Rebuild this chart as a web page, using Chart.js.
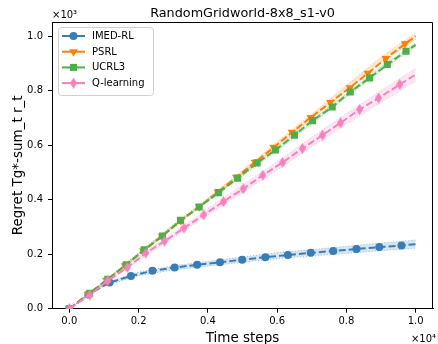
<!DOCTYPE html>
<html>
<head>
<meta charset="utf-8">
<script src="https://cdn.jsdelivr.net/npm/chart.js@4.4.0/dist/chart.umd.min.js"></script>
<style>
    html, body { margin: 0; padding: 0; background: #fff; }
    #wrap { width: 438px; height: 344px; }
</style>
</head>
<body>
<div id="wrap"><canvas id="regretChart" width="438" height="344"></canvas></div>
<script>
// Values: x in time steps, y in regret

const chartTitle = 'RandomGridworld-8x8_s1-v0';
const seriesNames = ['IMED-RL', 'PSRL', 'UCRL3', 'Q-learning'];

// mean curves, one point per marker plus the end of each line
const imedX = [0, 550, 1160, 1780, 2400, 3040, 3690, 4350, 4990, 5660, 6310, 6970, 7620, 8290, 8950, 9590, 10000];
const imedY = [0, 52, 96, 120, 139, 151, 161, 170, 180, 189, 197, 205, 212, 219, 226, 232, 237];

const psrlX = [0, 540, 1070, 1610, 2140, 2680, 3220, 3750, 4290, 4820, 5360, 5900, 6430, 6970, 7540, 8100, 8620, 9140, 9690, 10000];
const psrlY = [0, 53, 104, 158, 212, 266, 323, 374, 428, 482, 537, 592, 647, 702, 757, 811, 864, 918, 972, 1000];

const ucrlX = [0, 590, 1110, 1640, 2160, 2690, 3210, 3750, 4310, 4860, 5420, 5950, 6500, 7020, 7590, 8110, 8670, 9180, 9720, 10000];
const ucrlY = [0, 57, 108, 161, 216, 267, 324, 373, 426, 479, 535, 582, 637, 690, 740, 795, 847, 896, 945, 968];

const qX = [0, 590, 1110, 1670, 2210, 2750, 3310, 3880, 4450, 5020, 5590, 6160, 6730, 7310, 7830, 8380, 8930, 9540, 10000];
const qY = [0, 50, 103, 151, 204, 248, 296, 344, 393, 440, 490, 537, 588, 637, 682, 731, 773, 823, 859];

// confidence bands
const bandX = [0, 500, 1000, 2000, 3000, 4000, 5000, 6000, 7000, 8000, 9000, 10000];
const imedLo = [0, 44, 82, 121, 142, 156, 170, 184, 193, 203, 213, 222];
const imedHi = [0, 50, 92, 135, 158, 174, 190, 206, 217, 229, 241, 252];
const psrlLo = [0, 47, 95, 196, 296, 395, 494, 597, 696, 800, 902, 988];
const psrlHi = [0, 51, 101, 204, 306, 407, 508, 613, 714, 820, 924, 1012];
const ucrlLo = [0, 46, 94, 197, 299, 393, 487, 580, 678, 776, 873, 960];
const ucrlHi = [0, 50, 100, 205, 309, 403, 499, 592, 692, 790, 889, 976];
const qLo = [0, 39, 88, 177, 259, 345, 426, 508, 594, 676, 757, 835];
const qHi = [0, 45, 98, 193, 279, 369, 454, 540, 630, 716, 801, 883];

// tick positions
const xTickValues = [0, 2000, 4000, 6000, 8000, 10000];
const yTickValues = [0, 200, 400, 600, 800, 1000];

const FONT = '"DejaVu Sans", Verdana, sans-serif';

/**
 * Build a thin diamond marker on its own canvas
 */
function makeThinDiamond(color, w, h) {
    const c = document.createElement('canvas');
    c.width = w;
    c.height = h;
    const g = c.getContext('2d');
    g.fillStyle = color;
    g.beginPath();
    g.moveTo(w / 2, 0);
    g.lineTo(w, h / 2);
    g.lineTo(w / 2, h);
    g.lineTo(0, h / 2);
    g.closePath();
    g.fill();
    return c;
}

function toPoints(xs, ys) {
    return xs.map((x, i) => ({ x: x, y: ys[i] }));
}

function rgba(hex, a) {
    const n = parseInt(hex.slice(1), 16);
    return 'rgba(' + (n >> 16) + ',' + ((n >> 8) & 255) + ',' + (n & 255) + ',' + a + ')';
}

const series = [
    { name: seriesNames[0], xs: imedX, ys: imedY, lo: imedLo, hi: imedHi, color: '#377eb8', style: 'circle', radius: 4, rotation: 0, order: 4 },
    { name: seriesNames[1], xs: psrlX, ys: psrlY, lo: psrlLo, hi: psrlHi, color: '#ff7f00', style: 'triangle', radius: 5, rotation: 180, order: 3 },
    { name: seriesNames[2], xs: ucrlX, ys: ucrlY, lo: ucrlLo, hi: ucrlHi, color: '#4daf4a', style: 'rect', radius: 5, rotation: 0, order: 2 },
    { name: seriesNames[3], xs: qX, ys: qY, lo: qLo, hi: qHi, color: '#f781bf', style: null, radius: 5, rotation: 0, order: 1 }
];
series[3].style = makeThinDiamond(series[3].color, 7, 11);

const datasets = [];
series.forEach(s => {
    const last = s.xs.length - 1;
    datasets.push({
        label: s.name + ' lo',
        data: toPoints(bandX, s.lo),
        borderColor: rgba(s.color, 0.45),
        borderWidth: 1,
        borderDash: [1, 2],
        pointRadius: 0,
        fill: false,
        order: 10 + s.order
    });
    datasets.push({
        label: s.name + ' hi',
        data: toPoints(bandX, s.hi),
        borderColor: rgba(s.color, 0.45),
        backgroundColor: rgba(s.color, 0.2),
        borderWidth: 1,
        borderDash: [1, 2],
        pointRadius: 0,
        fill: '-1',
        order: 10 + s.order
    });
    datasets.push({
        label: s.name,
        data: toPoints(s.xs, s.ys),
        borderColor: s.color,
        backgroundColor: s.color,
        borderWidth: 2,
        borderDash: [7, 3],
        pointStyle: s.style,
        rotation: s.rotation,
        pointRadius: ctx => ctx.dataIndex === last ? 0 : s.radius,
        pointBorderWidth: 0,
        fill: false,
        order: s.order
    });
});

// texts, top/right spines and legend drawn by hand
const decorPlugin = {
    id: 'decor',
    afterDraw(chart) {
        const ctx = chart.ctx;
        const a = chart.chartArea;
        ctx.save();

        // top and right spines
        ctx.strokeStyle = '#000';
        ctx.lineWidth = 1;
        ctx.beginPath();
        ctx.moveTo(a.left, a.top + 0.5);
        ctx.lineTo(a.right - 0.5, a.top + 0.5);
        ctx.lineTo(a.right - 0.5, a.bottom);
        ctx.stroke();

        ctx.fillStyle = '#000';
        ctx.textBaseline = 'alphabetic';

        // title
        ctx.font = '12.8px ' + FONT;
        ctx.textAlign = 'center';
        ctx.fillText(chartTitle, (a.left + a.right) / 2, 16.5);

        // axis titles
        ctx.font = '13.5px ' + FONT;
        ctx.fillText('Time steps', (a.left + a.right) / 2, 341.5);
        ctx.save();
        ctx.translate(21.5, (a.top + a.bottom) / 2);
        ctx.rotate(-Math.PI / 2);
        ctx.fillText('Regret Tg*-sum_t r_t', 0, 0);
        ctx.restore();

        // offset texts
        ctx.font = '10px ' + FONT;
        ctx.textAlign = 'left';
        ctx.fillText('×10³', a.left, 18);
        ctx.textAlign = 'right';
        ctx.fillText('×10⁴', 436, 342);

        // legend
        const lx = 58, ly = 27, lw = 95, lh = 68;
        ctx.fillStyle = 'rgba(255,255,255,0.8)';
        ctx.strokeStyle = '#d0d0d0';
        ctx.beginPath();
        ctx.roundRect(lx + 0.5, ly + 0.5, lw, lh, 3);
        ctx.fill();
        ctx.stroke();

        ctx.textAlign = 'left';
        ctx.textBaseline = 'middle';
        ctx.font = '10px ' + FONT;
        series.forEach((s, i) => {
            const y = 36 + i * 15.7;
            ctx.strokeStyle = s.color;
            ctx.lineWidth = 2;
            ctx.setLineDash([]);
            ctx.beginPath();
            ctx.moveTo(62, y);
            ctx.lineTo(85, y);
            ctx.stroke();
            ctx.fillStyle = s.color;
            Chart.helpers.drawPoint(ctx, { pointStyle: s.style, rotation: s.rotation, radius: s.radius, borderWidth: 0 }, 73.5, y);
            ctx.fillStyle = '#000';
            ctx.fillText(s.name, 92, y + 0.5);
        });

        ctx.restore();
    }
};

const chart = new Chart(document.getElementById('regretChart'), {
    type: 'line',
    data: { datasets: datasets },
    options: {
        responsive: false,
        animation: false,
        devicePixelRatio: 1,
        layout: { padding: { top: 22, right: 1, left: 0, bottom: 0 } },
        plugins: {
            legend: { display: false },
            title: { display: false },
            tooltip: { enabled: false }
        },
        elements: { line: { tension: 0 } },
        scales: {
            x: {
                type: 'linear',
                min: -500,
                max: 10500,
                afterBuildTicks: scale => { scale.ticks = xTickValues.map(v => ({ value: v })); },
                afterFit: scale => { scale.height = 35.3; },
                grid: { display: true, drawOnChartArea: false, drawTicks: true, tickLength: 4, color: '#000' },
                border: { display: true, color: '#000', width: 1 },
                ticks: {
                    color: '#000',
                    padding: 3,
                    maxRotation: 0,
                    font: { family: FONT, size: 10 },
                    callback: v => (v / 10000).toFixed(1)
                }
            },
            y: {
                type: 'linear',
                min: 0,
                max: 1052,
                afterBuildTicks: scale => { scale.ticks = yTickValues.map(v => ({ value: v })); },
                afterFit: scale => { scale.width = 52; },
                grid: { display: true, drawOnChartArea: false, drawTicks: true, tickLength: 4, color: '#000' },
                border: { display: true, color: '#000', width: 1 },
                ticks: {
                    color: '#000',
                    padding: 5,
                    font: { family: FONT, size: 10 },
                    callback: v => (v / 1000).toFixed(1)
                }
            }
        }
    },
    plugins: [decorPlugin]
});
</script>
</body>
</html>
